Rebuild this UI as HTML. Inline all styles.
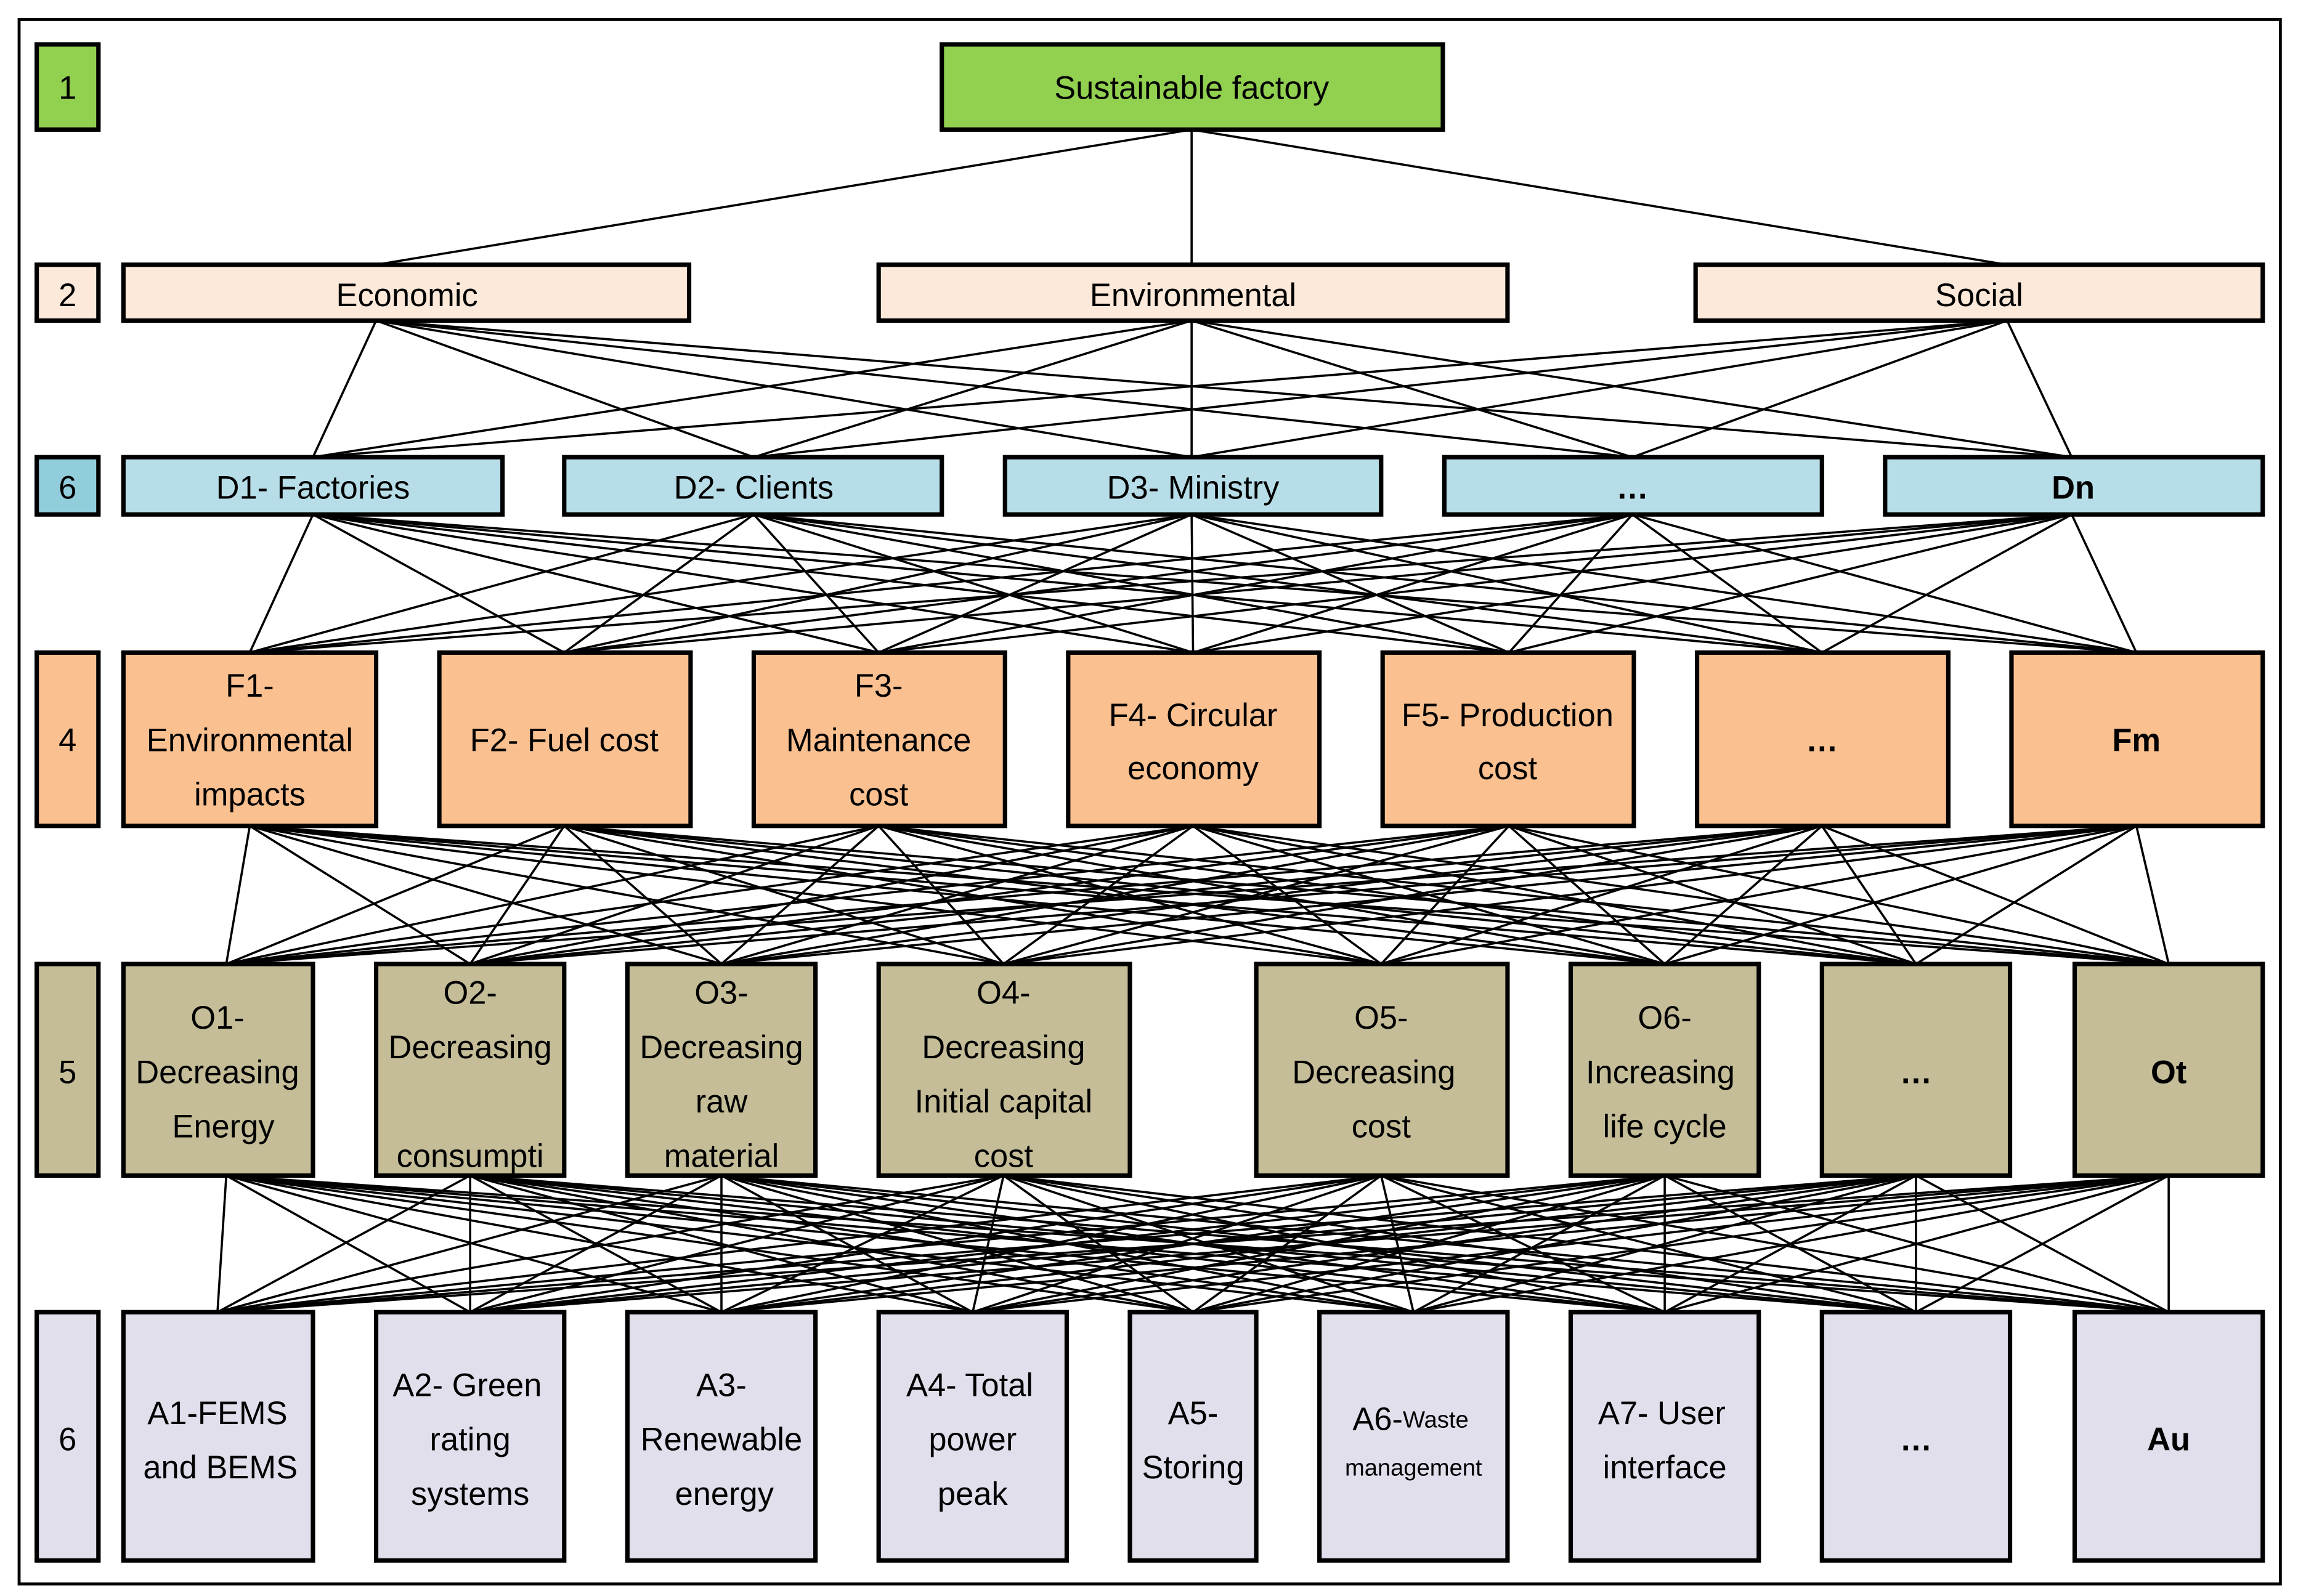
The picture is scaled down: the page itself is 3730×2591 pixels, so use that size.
<!DOCTYPE html>
<html><head><meta charset="utf-8"><style>
html,body{margin:0;padding:0;background:#fff}
svg{display:block}
text{font-family:"Liberation Sans",sans-serif;font-size:22px;fill:#000;text-anchor:middle;dominant-baseline:central}
.b{font-weight:bold}
</style></head><body>
<svg id="s" width="3730" height="2591" viewBox="0 0 1564 1086" xmlns="http://www.w3.org/2000/svg">
<rect x="0" y="0" width="1564" height="1086" fill="#fff"/>
<rect x="13" y="13" width="1539" height="1065" fill="none" stroke="#000" stroke-width="2"/>
<g id="lines" stroke="#000" stroke-width="1.5"></g>
<g stroke="#000" stroke-width="3">
<rect x="25" y="30" width="42" height="58" fill="#92d050"/>
<rect x="25" y="180" width="42" height="38" fill="#fde9d9"/>
<rect x="25" y="311" width="42" height="39" fill="#92cddc"/>
<rect x="25" y="444" width="42" height="118" fill="#fac090"/>
<rect x="25" y="656" width="42" height="144" fill="#c4bd97"/>
<rect x="25" y="893" width="42" height="169" fill="#e1dfec"/>
<rect x="641" y="30" width="341" height="58" fill="#92d050"/>
<rect x="84" y="180" width="385" height="38" fill="#fde9d9"/>
<rect x="598" y="180" width="428" height="38" fill="#fde9d9"/>
<rect x="1154" y="180" width="386" height="38" fill="#fde9d9"/>
<rect x="84" y="311" width="258" height="39" fill="#b7dee8"/>
<rect x="384" y="311" width="257" height="39" fill="#b7dee8"/>
<rect x="684" y="311" width="256" height="39" fill="#b7dee8"/>
<rect x="983" y="311" width="257" height="39" fill="#b7dee8"/>
<rect x="1283" y="311" width="257" height="39" fill="#b7dee8"/>
<rect x="84" y="444" width="172" height="118" fill="#fac090"/>
<rect x="299" y="444" width="171" height="118" fill="#fac090"/>
<rect x="513" y="444" width="171" height="118" fill="#fac090"/>
<rect x="727" y="444" width="171" height="118" fill="#fac090"/>
<rect x="941" y="444" width="171" height="118" fill="#fac090"/>
<rect x="1155" y="444" width="171" height="118" fill="#fac090"/>
<rect x="1369" y="444" width="171" height="118" fill="#fac090"/>
<rect x="84" y="656" width="129" height="144" fill="#c4bd97"/>
<rect x="256" y="656" width="128" height="144" fill="#c4bd97"/>
<rect x="427" y="656" width="128" height="144" fill="#c4bd97"/>
<rect x="598" y="656" width="171" height="144" fill="#c4bd97"/>
<rect x="855" y="656" width="171" height="144" fill="#c4bd97"/>
<rect x="1069" y="656" width="128" height="144" fill="#c4bd97"/>
<rect x="1240" y="656" width="128" height="144" fill="#c4bd97"/>
<rect x="1412" y="656" width="128" height="144" fill="#c4bd97"/>
<rect x="84" y="893" width="129" height="169" fill="#e1dfec"/>
<rect x="256" y="893" width="128" height="169" fill="#e1dfec"/>
<rect x="427" y="893" width="128" height="169" fill="#e1dfec"/>
<rect x="598" y="893" width="128" height="169" fill="#e1dfec"/>
<rect x="769" y="893" width="86" height="169" fill="#e1dfec"/>
<rect x="898" y="893" width="128" height="169" fill="#e1dfec"/>
<rect x="1069" y="893" width="128" height="169" fill="#e1dfec"/>
<rect x="1240" y="893" width="128" height="169" fill="#e1dfec"/>
<rect x="1412" y="893" width="128" height="169" fill="#e1dfec"/>
</g>
<g>
<text x="46" y="60">1</text><text x="46" y="201">2</text><text x="46" y="332">6</text>
<text x="46" y="504">4</text><text x="46" y="730">5</text><text x="46" y="980">6</text>
<text x="811" y="60">Sustainable factory</text>
<text x="277" y="201">Economic</text><text x="812" y="201">Environmental</text><text x="1347" y="201">Social</text>
<text x="213" y="332">D1- Factories</text><text x="513" y="332">D2-  Clients</text><text x="812" y="332">D3- Ministry</text>
<text x="1111" y="332" class="b">…</text><text x="1411" y="332" class="b">Dn</text>
<text x="170" y="467">F1-</text><text x="170" y="504">Environmental</text><text x="170" y="541">impacts</text>
<text x="384" y="504">F2- Fuel cost</text>
<text x="598" y="467">F3-</text><text x="598" y="504">Maintenance</text><text x="598" y="541">cost</text>
<text x="812" y="487">F4- Circular</text><text x="812" y="523">economy</text>
<text x="1026" y="487">F5- Production</text><text x="1026" y="523">cost</text>
<text x="1240" y="504" class="b">…</text><text x="1454" y="504" class="b">Fm</text>
<text x="148" y="693">O1-</text><text x="148" y="730">Decreasing</text><text x="152" y="767">Energy</text>
<text x="320" y="676">O2-</text><text x="320" y="713">Decreasing</text><text x="320" y="787">consumpti</text>
<text x="491" y="676">O3-</text><text x="491" y="713">Decreasing</text><text x="491" y="750">raw</text><text x="491" y="787">material</text>
<text x="683" y="676">O4-</text><text x="683" y="713">Decreasing</text><text x="683" y="750">Initial capital</text><text x="683" y="787">cost</text>
<text x="940" y="693">O5-</text><text x="935" y="730">Decreasing</text><text x="940" y="767">cost</text>
<text x="1133" y="693">O6-</text><text x="1130" y="730">Increasing</text><text x="1133" y="767">life cycle</text>
<text x="1304" y="730" class="b">…</text><text x="1476" y="730" class="b">Ot</text>
<text x="148" y="962">A1-FEMS</text><text x="150" y="999">and BEMS</text>
<text x="318" y="943">A2- Green</text><text x="320" y="980">rating</text><text x="320" y="1017">systems</text>
<text x="491" y="943">A3-</text><text x="491" y="980">Renewable</text><text x="493" y="1017">energy</text>
<text x="660" y="943">A4- Total</text><text x="662" y="980">power</text><text x="662" y="1017">peak</text>
<text x="812" y="962">A5-</text><text x="812" y="999">Storing</text>
<text x="960" y="966">A6-<tspan style="font-size:16px">Waste</tspan></text><text x="962" y="999" style="font-size:16px">management</text>
<text x="1131" y="962">A7- User</text><text x="1133" y="999">interface</text>
<text x="1304" y="980" class="b">…</text><text x="1476" y="980" class="b">Au</text>
</g>
</svg>
<script>
(function(){
var g=document.getElementById('lines');
function L(a,ya,b,yb){for(var i=0;i<a.length;i++)for(var j=0;j<b.length;j++){var l=document.createElementNS('http://www.w3.org/2000/svg','line');l.setAttribute('x1',a[i]);l.setAttribute('y1',ya);l.setAttribute('x2',b[j]);l.setAttribute('y2',yb);g.appendChild(l);}}
var r1=[811],r2=[256,811,1366],r3=[213,513,811,1111,1410],r4=[170,384,598,812,1027,1240,1454],r5=[154,320,491,683,940,1133,1304,1476],r6=[148,320,491,662,812,962,1133,1304,1476];
L(r1,88,r2,180);L(r2,218,r3,311);L(r3,350,r4,444);L(r4,562,r5,656);L(r5,800,r6,893);
})();
</script>
</body></html>
